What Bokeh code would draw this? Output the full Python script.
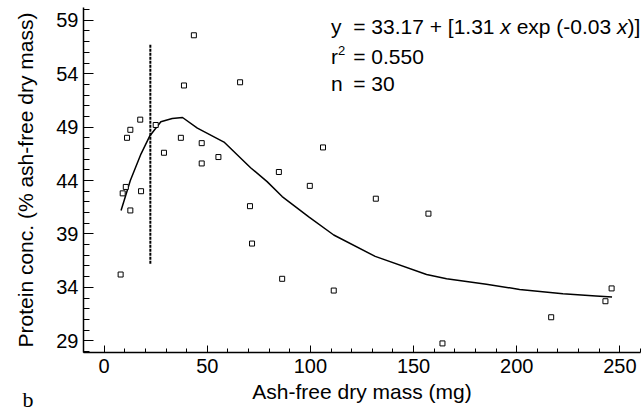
from bokeh.plotting import figure
from bokeh.models import Range1d, FixedTicker, Label
from bokeh.embed import file_html
from bokeh.resources import INLINE

# Data
mass = [8, 9, 10.5, 11.1, 12.7, 12.7, 17.5, 17.9, 25, 29, 37.2, 38.7, 43.5, 47.3, 47.3,
        55.4, 65.9, 70.7, 71.7, 84.7, 86.3, 99.7, 106.1, 111.3, 131.7, 157.2, 164,
        216.7, 243, 246]
protein = [35.2, 42.8, 43.4, 48.0, 48.75, 41.2, 49.7, 43.0, 49.2, 46.6, 48.0, 52.9, 57.6,
           47.5, 45.6, 46.2, 53.2, 41.6, 38.1, 44.8, 34.8, 43.5, 47.1, 33.7, 42.3, 40.9,
           28.75, 31.2, 32.7, 33.9]

fit_x = [8.2, 12.7, 17.9, 22.2, 27.5, 33, 38, 45.2, 58.1, 71, 79, 86.3, 99.2, 111.3,
         131.4, 156.3, 166, 185.3, 201.4, 222.4, 238.4, 246.2]
fit_y = [41.2, 44.0, 46.5, 48.2, 49.5, 49.8, 49.9, 48.9, 47.6, 45.2, 43.9, 42.5, 40.6,
         38.9, 36.9, 35.2, 34.8, 34.3, 33.8, 33.4, 33.2, 33.1]

threshold_x = [22.4, 22.4]
threshold_y = [36.2, 56.8]

x_ticks = [0, 50, 100, 150, 200, 250]
y_ticks = [29, 34, 39, 44, 49, 54, 59]

FONT = "Liberation Sans"

p = figure(width=642, height=411, output_backend="svg", toolbar_location=None,
           x_range=Range1d(-10, 260), y_range=Range1d(27.9, 60.2),
           min_border_left=82, min_border_right=2, min_border_top=7, min_border_bottom=59)
p.outline_line_color = None
p.xgrid.visible = False
p.ygrid.visible = False
p.background_fill_color = "white"
p.border_fill_color = "white"

p.xaxis.ticker = FixedTicker(ticks=x_ticks, minor_ticks=list(range(-10, 261, 10)))
p.yaxis.ticker = FixedTicker(ticks=y_ticks, minor_ticks=list(range(28, 61)))

for ax in (p.xaxis[0], p.yaxis[0]):
    ax.axis_line_color = "black"
    ax.axis_line_width = 1.5
    ax.major_tick_line_color = "black"
    ax.minor_tick_line_color = "black"
    ax.major_tick_out = 0
    ax.minor_tick_out = 0
    ax.major_label_text_font = FONT
    ax.major_label_text_font_size = "20px"
    ax.major_label_text_color = "black"
    ax.axis_label_text_font = FONT
    ax.axis_label_text_font_size = "21px"
    ax.axis_label_text_font_style = "normal"
    ax.axis_label_text_color = "black"

p.xaxis.major_tick_in = 7
p.xaxis.minor_tick_in = 4
p.yaxis.major_tick_in = 10
p.yaxis.minor_tick_in = 6
p.xaxis.major_label_standoff = 6
p.yaxis.major_label_standoff = 5
p.xaxis.axis_label = "Ash-free dry mass (mg)"
p.yaxis.axis_label = "Protein conc. (% ash-free dry mass)"
p.xaxis.axis_label_standoff = 4
p.yaxis.axis_label_standoff = 16

p.line(fit_x, fit_y, line_color="black", line_width=1.5)
p.line(threshold_x, threshold_y, line_color="black", line_width=2, line_dash="3 1")
p.scatter(mass, protein, marker="square", size=5, fill_color="white",
          line_color="black", line_width=1)

# equation annotation
ax0, y1, y2, y3 = 110, 58.4, 55.6, 53.1
def lab(text, y, off, style="normal", size="21px", yoff=0):
    p.add_layout(Label(x=ax0, y=y, x_offset=off, y_offset=yoff, text=text,
                       text_font=FONT, text_font_size=size, text_font_style=style,
                       text_color="black", text_baseline="middle", text_align="left"))

lab("y", y1, 0)
lab("= 33.17 + [1.31", y1, 22.2)
lab("x", y1, 169.3, "italic")
lab("exp (-0.03", y1, 185.6)
lab("x", y1, 285.9, "italic")
lab(")]", y1, 296.4)
lab("r", y2, 0)
lab("2", y2, 7, size="13px", yoff=6)
lab("= 0.550", y2, 22.2)
lab("n", y3, 0)
lab("= 30", y3, 22.2)

# panel letter, placed in the left side panel so that it is not clipped to the frame
p.add_layout(Label(x=22, y=-47, x_units="screen", y_units="screen", text="b",
                   text_font="Liberation Serif", text_font_size="22px",
                   text_color="black", text_baseline="middle"), "left")

open("out.html", "w").write(file_html(p, INLINE))
